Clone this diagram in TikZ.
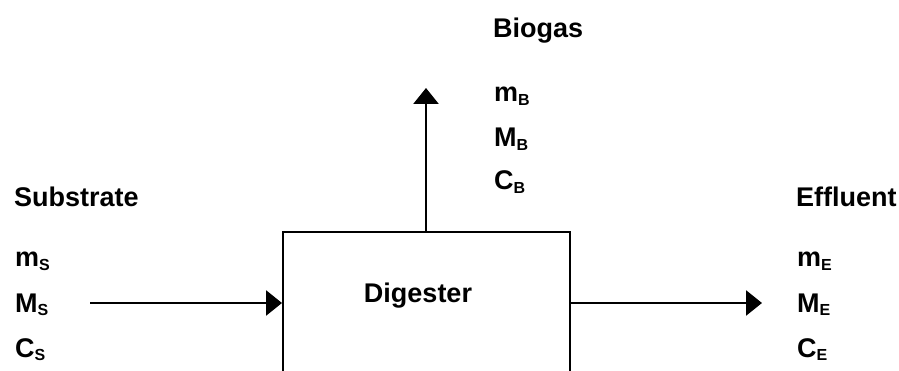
\documentclass[tikz,border=0pt]{standalone}
\usepackage{fontspec}
\setmainfont{Liberation Sans}
\usetikzlibrary{arrows.meta}
\newcommand{\sbx}[1]{\raisebox{-3.5pt}{\fontsize{16}{16}\selectfont #1}}
\tikzset{
  lbl/.style={anchor=base west, inner sep=0pt, font=\fontsize{27}{32}\selectfont\bfseries},
  flow/.style={line width=2.8pt, -{Triangle[length=16pt, width=25pt]}},
  boxstyle/.style={draw, line width=1.6pt, minimum width=287pt, minimum height=200pt, anchor=north west, inner sep=0pt}
}
\begin{document}
\begin{tikzpicture}[x=1pt, y=-1pt]
\clip (0,0) rectangle (899,371);
\fill[white] (0,0) rectangle (899,371);
\node[boxstyle] (dig) at (282,231) {};
\node[lbl, anchor=base] (digl) at (418,302) {Digester};
% input
\node[lbl] (subs) at (14,207) {Substrate};
\node[lbl] (ms) at (15,267) {m\sbx{S}};
\node[lbl] (Ms) at (15,312) {M\sbx{S}};
\node[lbl] (Cs) at (15,357) {C\sbx{S}};
\coordinate (sin) at (90,303);
\draw[flow] (sin) -- (sin -| dig.west);
% biogas
\node[lbl] (bio) at (493,38) {Biogas};
\node[lbl] (mb) at (494,102) {m\sbx{B}};
\node[lbl] (Mb) at (494,147) {M\sbx{B}};
\node[lbl] (Cb) at (494,190) {C\sbx{B}};
\coordinate (gout) at (426,88);
\draw[flow] (gout |- dig.north) -- (gout);
% effluent
\node[lbl] (eff) at (796,207) {Effluent};
\node[lbl] (me) at (797,267) {m\sbx{E}};
\node[lbl] (Me) at (797,312) {M\sbx{E}};
\node[lbl] (Ce) at (797,357) {C\sbx{E}};
\coordinate (eout) at (762,303);
\draw[flow] (eout -| dig.east) -- (eout);
\end{tikzpicture}
\end{document}
